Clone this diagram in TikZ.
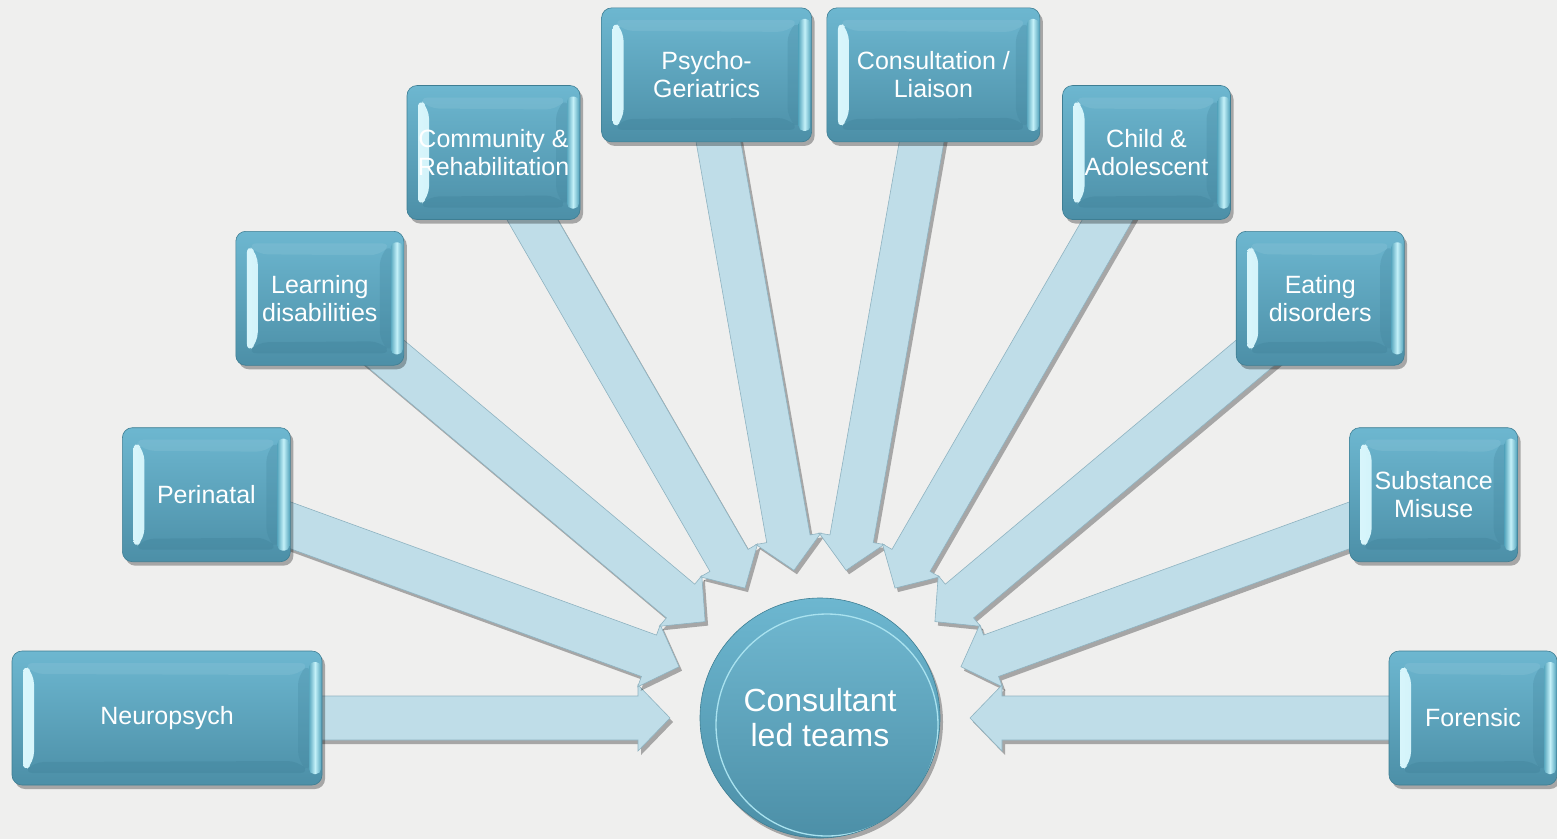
\documentclass[tikz,border=0pt]{standalone}
\usepackage{fontspec}
\setmainfont{Liberation Sans}
\usetikzlibrary{calc,shadows}

\definecolor{bgcol}{HTML}{EFEFEE}
\definecolor{boxtop}{HTML}{6DB7D0}
\definecolor{boxbot}{HTML}{4C8FA7}
\definecolor{boxedge}{HTML}{3E7E93}
\definecolor{arrowfill}{HTML}{BFDDE8}
\definecolor{arrowedge}{HTML}{8FB3C1}
\definecolor{bevlight}{HTML}{DDF8FD}
\definecolor{bevmid}{HTML}{8ED2E2}
\definecolor{rimlight}{HTML}{C4F1F9}
\definecolor{rimdark}{HTML}{5AA8BF}
\definecolor{bevdark}{HTML}{3F8199}
\definecolor{ringlight}{HTML}{A9E2EF}

\pgfdeclarelayer{bglayer}
\pgfdeclarelayer{arrowlayer}
\pgfsetlayers{bglayer,arrowlayer,main}

\tikzset{
  softshadow/.style={drop shadow={shadow xshift=3pt, shadow yshift=-4pt, opacity=0.3, fill=black}},
  bevel/.style={path picture={
    \shade[left color=bevlight, right color=bevmid]
      let \p1=(path picture bounding box.north west), \p2=(path picture bounding box.south east) in
      (\x1+11pt,\y1-12pt) -- (\x1+22pt,\y1-23pt) -- (\x1+22pt,\y2+23pt) -- (\x1+11pt,\y2+12pt) -- cycle;
    \fill[bevdark, opacity=0.35]
      let \p1=(path picture bounding box.north west), \p2=(path picture bounding box.south east) in
      (\x1+11pt,\y2+12pt) -- (\x2-12pt,\y2+12pt) -- (\x2-24pt,\y2+24pt) -- (\x1+22pt,\y2+23pt) -- cycle;
    \fill[bevdark, opacity=0.25]
      let \p1=(path picture bounding box.north west), \p2=(path picture bounding box.south east) in
      (\x2-12pt,\y1-12pt) -- (\x2-24pt,\y1-24pt) -- (\x2-24pt,\y2+24pt) -- (\x2-12pt,\y2+12pt) -- cycle;
    \fill[white, opacity=0.08]
      let \p1=(path picture bounding box.north west), \p2=(path picture bounding box.south east) in
      (\x1+11pt,\y1-12pt) -- (\x2-12pt,\y1-12pt) -- (\x2-24pt,\y1-24pt) -- (\x1+22pt,\y1-23pt) -- cycle;
    \shade[left color=rimdark, right color=rimdark, middle color=rimlight, rounded corners=5pt]
      let \p1=(path picture bounding box.north west), \p2=(path picture bounding box.south east) in
      (\x2-13pt,\y1-11pt) rectangle (\x2-1pt,\y2+11pt);
  }},
  teambox/.style={rectangle, rounded corners=10pt, minimum height=134pt, minimum width=#1,
    inner sep=0pt, text=white, align=center, font=\fontsize{25}{28}\selectfont,
    top color=boxtop, bottom color=boxbot, draw=boxedge, line width=0.6pt,
    softshadow, bevel},
  hubcircle/.style={circle, minimum size=240pt, inner sep=0pt, text=white, align=center,
    font=\fontsize{32}{35}\selectfont, top color=boxtop, bottom color=boxbot,
    draw=boxedge, line width=0.6pt, softshadow,
    path picture={
      \draw[ringlight, line width=1.3pt, top color=boxtop!97!white, bottom color=boxbot]
        ($(path picture bounding box.center)+(7pt,-7pt)$) circle (111pt);
    }},
  arrowbody/.style={fill=arrowfill, draw=arrowedge, line width=0.6pt, line join=miter,
    drop shadow={shadow xshift=3pt, shadow yshift=-4pt, opacity=0.3, fill=black}},
}

\begin{document}
\begin{tikzpicture}[x=1pt, y=-1pt]
  \useasboundingbox (0,0) rectangle (1557,839);
  \begin{pgfonlayer}{bglayer}
    \fill[bgcol] (0,0) rectangle (1557,839);
  \end{pgfonlayer}

  \node[hubcircle] (c) at (820,718) {Consultant\\led teams};

  \node[teambox=310pt] (n1)  at (167,718)    {Neuropsych};
  \node[teambox=168pt] (n2)  at (206.4,494.7) {Perinatal};
  \node[teambox=168pt] (n3)  at (319.8,298.3) {Learning\\disabilities};
  \node[teambox=173pt] (n4)  at (493.5,152.5) {Community \&\\Rehabilitation};
  \node[teambox=210pt] (n5)  at (706.6,74.9)  {Psycho-\\Geriatrics};
  \node[teambox=213pt] (n6)  at (933.4,74.9)  {Consultation /\\Liaison};
  \node[teambox=168pt] (n7)  at (1146.5,152.5) {Child \&\\Adolescent};
  \node[teambox=168pt] (n8)  at (1320.2,298.3) {Eating\\disorders};
  \node[teambox=168pt] (n9)  at (1433.6,494.7) {Substance\\Misuse};
  \node[teambox=168pt] (n10) at (1473,718)    {Forensic};

  \begin{pgfonlayer}{arrowlayer}
    \foreach \i in {1,...,10} {
      \coordinate (T) at ($(c.center)!150pt!(n\i.center)$);
      \coordinate (H) at ($(c.center)!182pt!(n\i.center)$);
      \filldraw[arrowbody] (T)
        -- ($(H)!33pt!90:(n\i.center)$)
        -- ($(H)!22pt!90:(n\i.center)$)
        -- ($(n\i.center)!22pt!-90:(H)$)
        -- ($(n\i.center)!22pt!90:(H)$)
        -- ($(H)!22pt!-90:(n\i.center)$)
        -- ($(H)!33pt!-90:(n\i.center)$)
        -- cycle;
    }
  \end{pgfonlayer}
\end{tikzpicture}
\end{document}
